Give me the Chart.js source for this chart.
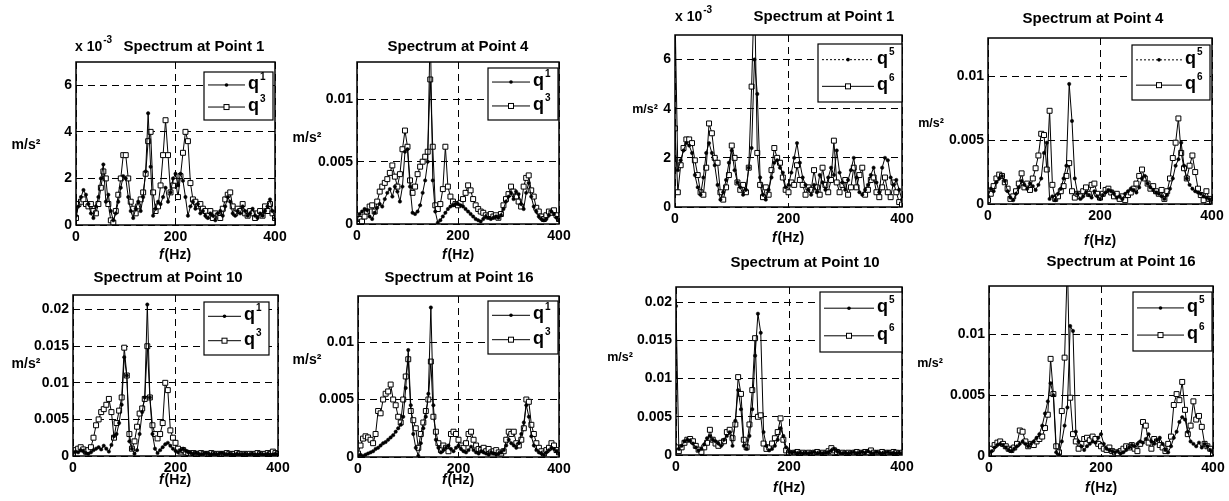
<!DOCTYPE html>
<html>
<head>
<meta charset="utf-8">
<script src="https://cdn.jsdelivr.net/npm/chart.js@4.4.0/dist/chart.umd.min.js"></script>
<style>
body { margin: 0; background: #fff; }
#wrap { position: relative; width: 1229px; height: 501px; background: #fff; }
#wrap canvas { position: absolute; left: 0; top: 0; }
</style>
</head>
<body>
<div id="wrap"></div>
<script>
// frequency axis (Hz)
const freq = [
  0,5,10,15,20,25,30,35,40,45,
  50,55,60,65,70,75,80,85,90,95,
  100,105,110,115,120,125,130,135,140,145,
  150,155,160,165,170,175,180,185,190,195,
  200,205,210,215,220,225,230,235,240,245,
  250,255,260,265,270,275,280,285,290,295,
  300,305,310,315,320,325,330,335,340,345,
  350,355,360,365,370,375,380,385,390,395,400];

// left group, q1 / q3   (Point 1 values in 1e-3 m/s2)
const a1_q1 = [
  0.4,0.8,1.2,1.5,1.3,0.9,0.5,0.3,0.8,1.2,
  2.0,2.6,1.0,1.3,0.6,0.2,0.5,1.0,1.6,2.1,
  2.0,1.2,0.6,0.3,0.7,1.0,0.6,1.2,2.3,4.8,
  2.5,0.4,0.7,1.0,0.9,1.2,1.6,1.0,1.4,2.0,
  2.2,1.7,2.2,1.9,1.2,0.4,0.8,1.0,0.7,0.9,
  0.5,0.6,0.4,0.3,0.5,0.4,0.2,0.5,0.6,0.4,
  0.8,1.2,1.0,0.5,0.4,0.6,0.5,0.8,0.6,0.4,
  0.5,0.7,0.4,0.3,0.5,0.4,0.6,0.8,1.1,0.6,0.3];
const a1_q3 = [
  0.3,0.9,1.0,1.1,0.9,0.8,0.9,0.6,0.5,0.9,
  1.6,2.3,2.0,0.9,0.2,0.1,0.6,1.3,2.0,3.0,
  3.0,2.0,1.0,0.7,0.5,0.8,1.1,1.4,2.2,3.6,
  4.0,1.4,0.6,0.8,1.7,3.0,4.5,3.0,1.4,1.7,
  1.9,1.2,2.1,3.1,4.0,3.6,1.8,1.1,1.0,0.8,
  0.9,0.7,0.6,0.4,0.6,0.3,0.5,0.4,0.3,0.7,
  1.1,1.3,1.4,0.8,0.5,0.7,0.6,0.9,0.5,0.4,
  0.6,0.5,0.3,0.5,0.6,0.4,0.8,0.6,0.9,0.5,0.3];

const a4_q1 = [
  .0003,.0008,.0010,.0012,.0011,.0006,.0004,.0009,.0013,.0016,
  .0014,.0020,.0025,.0028,.0022,.0030,.0026,.0018,.0030,.0058,
  .0060,.0030,.0009,.0008,.0010,.0015,.0025,.0035,.0050,.0160,
  .0035,.0010,.0001,.0003,.0006,.0009,.0012,.0014,.0015,.0016,
  .0016,.0015,.0014,.0012,.0010,.0008,.0006,.0004,.0003,.0002,
  .0004,.0006,.0005,.0004,.0005,.0006,.0005,.0007,.0012,.0018,
  .0022,.0025,.0020,.0026,.0024,.0016,.0012,.0025,.0033,.0022,
  .0014,.0010,.0006,.0004,.0003,.0004,.0007,.0010,.0008,.0005,.0003];
const a4_q3 = [
  .0002,.0004,.0002,.0006,.0010,.0014,.0015,.0010,.0018,.0026,
  .0030,.0033,.0036,.0041,.0047,.0038,.0030,.0040,.0060,.0075,
  .0062,.0035,.0025,.0030,.0040,.0046,.0050,.0054,.0058,.0116,
  .0062,.0015,.0012,.0016,.0028,.0062,.0030,.0022,.0018,.0016,
  .0015,.0017,.0020,.0025,.0031,.0027,.0020,.0015,.0012,.0010,
  .0009,.0007,.0006,.0008,.0006,.0007,.0005,.0008,.0015,.0020,
  .0024,.0030,.0026,.0022,.0018,.0014,.0030,.0037,.0039,.0027,
  .0022,.0013,.0010,.0006,.0004,.0007,.0010,.0009,.0011,.0007,.0004];

const a10_q1 = [
  .0004,.0006,.0005,.0008,.0007,.0004,.0003,.0005,.0008,.0010,
  .0012,.0009,.0014,.0010,.0006,.0015,.0027,.0030,.0045,.0070,
  .0135,.0110,.0020,.0010,.0003,.0008,.0030,.0060,.0080,.0207,
  .0080,.0030,.0010,.0004,.0008,.0012,.0016,.0018,.0014,.0010,
  .0007,.0005,.0008,.0010,.0007,.0005,.0004,.0003,.0004,.0003,
  .0002,.0003,.0004,.0003,.0002,.0003,.0002,.0003,.0004,.0003,
  .0002,.0003,.0002,.0002,.0003,.0002,.0002,.0003,.0002,.0002,
  .0003,.0002,.0002,.0003,.0002,.0002,.0003,.0002,.0002,.0003,.0002];
const a10_q3 = [
  .0003,.0008,.0010,.0012,.0009,.0006,.0008,.0012,.0025,.0042,
  .0050,.0060,.0064,.0070,.0078,.0060,.0025,.0045,.0062,.0080,
  .0148,.0110,.0030,.0010,.0020,.0040,.0058,.0065,.0078,.0150,
  .0080,.0042,.0030,.0024,.0030,.0045,.0100,.0090,.0035,.0025,
  .0018,.0010,.0006,.0008,.0005,.0004,.0003,.0004,.0003,.0003,
  .0004,.0003,.0002,.0003,.0004,.0003,.0002,.0003,.0002,.0003,
  .0004,.0003,.0002,.0003,.0004,.0003,.0002,.0003,.0002,.0003,
  .0002,.0003,.0004,.0003,.0002,.0003,.0004,.0003,.0006,.0004,.0003];

const a16_q1 = [
  .0001,.0002,.0001,.0002,.0003,.0004,.0005,.0007,.0008,.0010,
  .0012,.0013,.0015,.0017,.0019,.0022,.0025,.0028,.0035,.0060,
  .0093,.0045,.0020,.0008,.0001,.0012,.0025,.0035,.0055,.0130,
  .0045,.0015,.0008,.0004,.0006,.0008,.0010,.0007,.0005,.0008,
  .0010,.0007,.0005,.0004,.0006,.0009,.0006,.0004,.0003,.0005,
  .0004,.0003,.0002,.0004,.0003,.0002,.0003,.0004,.0006,.0010,
  .0015,.0012,.0010,.0008,.0012,.0020,.0030,.0045,.0035,.0018,
  .0010,.0006,.0004,.0003,.0002,.0004,.0006,.0008,.0007,.0005,.0003];
const a16_q3 = [
  .0003,.0010,.0016,.0018,.0017,.0015,.0012,.0020,.0040,.0038,
  .0050,.0055,.0057,.0063,.0050,.0045,.0035,.0030,.0050,.0070,
  .0085,.0040,.0032,.0025,.0008,.0020,.0030,.0040,.0050,.0083,
  .0035,.0022,.0012,.0006,.0010,.0008,.0005,.0020,.0022,.0020,
  .0015,.0010,.0008,.0012,.0020,.0022,.0015,.0010,.0007,.0006,
  .0008,.0005,.0007,.0004,.0005,.0006,.0004,.0003,.0005,.0015,
  .0022,.0020,.0022,.0012,.0010,.0015,.0025,.0050,.0048,.0028,
  .0020,.0012,.0008,.0005,.0003,.0006,.0008,.0012,.0010,.0006,.0004];

// right group, q5 / q6   (Point 1 values in 1e-3 m/s2)
const b1_q5 = [
  8.0,1.5,1.9,2.3,2.6,2.5,2.2,1.3,0.8,0.5,
  1.2,2.2,2.6,2.2,1.7,0.9,0.3,0.6,1.1,1.8,
  2.3,1.5,1.0,0.8,0.5,0.7,1.6,2.4,6.0,4.6,
  1.2,0.5,0.3,0.7,1.2,1.8,1.9,1.6,1.4,0.8,
  0.9,1.4,2.0,2.6,1.8,1.2,0.9,0.7,0.5,0.9,
  0.6,1.3,1.0,0.7,1.2,1.6,1.3,2.3,1.4,1.0,
  0.7,1.1,1.5,2.0,1.2,0.6,0.5,0.7,0.9,1.3,
  1.6,1.0,0.6,1.6,2.0,1.9,1.2,0.9,1.1,0.7,0.3];
const b1_q6 = [
  3.2,0.6,1.7,2.4,2.75,2.75,2.6,1.9,1.3,0.6,
  0.5,1.6,3.4,3.0,2.0,1.8,0.6,0.3,0.8,1.3,
  2.5,2.0,1.0,0.7,0.9,0.6,1.6,4.9,9.0,2.2,
  0.9,0.4,0.8,0.5,1.5,2.4,2.0,1.8,1.2,0.7,
  0.6,1.0,0.9,1.7,1.1,0.9,0.5,0.8,0.7,1.5,
  0.8,0.5,1.6,0.9,0.6,1.1,2.7,1.0,0.6,0.9,
  1.1,0.5,0.8,1.6,0.8,1.3,1.6,0.5,0.7,1.1,
  1.2,0.6,0.4,0.8,1.2,0.6,0.4,1.0,0.6,0.2,0.1];

const b4_q5 = [
  .0006,.0012,.0010,.0017,.0020,.0022,.0018,.0010,.0005,.0003,
  .0008,.0013,.0018,.0015,.0012,.0016,.0014,.0011,.0015,.0020,
  .0040,.0048,.0004,.0006,.0003,.0008,.0012,.0020,.0030,.0094,
  .0065,.0020,.0008,.0004,.0006,.0009,.0007,.0005,.0010,.0006,
  .0004,.0007,.0009,.0011,.0010,.0008,.0005,.0006,.0004,.0008,
  .0010,.0012,.0011,.0009,.0013,.0020,.0022,.0016,.0013,.0011,
  .0009,.0008,.0006,.0004,.0007,.0012,.0020,.0030,.0035,.0048,
  .0030,.0020,.0015,.0012,.0010,.0009,.0008,.0006,.0005,.0004,.0002];
const b4_q6 = [
  .0003,.0008,.0014,.0020,.0023,.0022,.0017,.0012,.0004,.0006,
  .0010,.0016,.0024,.0013,.0016,.0011,.0020,.0028,.0038,.0055,
  .0054,.0027,.0073,.0015,.0004,.0006,.0010,.0014,.0022,.0032,
  .0010,.0005,.0008,.0006,.0010,.0013,.0008,.0015,.0016,.0008,
  .0005,.0008,.0011,.0012,.0009,.0006,.0008,.0004,.0006,.0003,
  .0007,.0009,.0012,.0016,.0022,.0027,.0020,.0016,.0012,.0014,
  .0010,.0008,.0011,.0004,.0010,.0020,.0036,.0048,.0067,.0040,
  .0028,.0020,.0030,.0038,.0025,.0012,.0007,.0003,.0010,.0004,.0002];

const b10_q5 = [
  .0195,.0008,.0012,.0018,.0020,.0019,.0015,.0010,.0006,.0008,
  .0014,.0022,.0025,.0020,.0018,.0015,.0012,.0020,.0025,.0030,
  .0012,.0045,.0085,.0060,.0012,.0008,.0025,.0060,.0130,.0185,
  .0160,.0030,.0012,.0006,.0008,.0012,.0020,.0035,.0025,.0010,
  .0004,.0003,.0004,.0002,.0003,.0002,.0003,.0002,.0003,.0004,
  .0002,.0003,.0002,.0003,.0004,.0006,.0008,.0005,.0003,.0002,
  .0003,.0002,.0003,.0004,.0002,.0003,.0004,.0003,.0005,.0003,
  .0002,.0004,.0003,.0002,.0003,.0004,.0002,.0003,.0002,.0003,.0002];
const b10_q6 = [
  .0010,.0005,.0010,.0016,.0020,.0021,.0018,.0012,.0007,.0004,
  .0010,.0016,.0033,.0020,.0015,.0012,.0016,.0018,.0030,.0033,
  .0022,.0040,.0102,.0080,.0020,.0010,.0040,.0085,.0153,.0050,
  .0052,.0015,.0008,.0010,.0015,.0022,.0030,.0048,.0020,.0006,
  .0003,.0002,.0003,.0004,.0002,.0003,.0002,.0003,.0002,.0003,
  .0004,.0002,.0003,.0002,.0005,.0009,.0006,.0004,.0002,.0003,
  .0002,.0003,.0002,.0003,.0004,.0002,.0003,.0004,.0003,.0006,
  .0003,.0002,.0003,.0004,.0002,.0003,.0002,.0004,.0003,.0002,.0003];

const b16_q5 = [
  .0002,.0004,.0007,.0009,.0010,.0009,.0007,.0005,.0004,.0006,
  .0008,.0010,.0012,.0010,.0008,.0010,.0012,.0015,.0018,.0025,
  .0035,.0045,.0060,.0050,.0003,.0001,.0012,.0025,.0040,.0107,
  .0103,.0020,.0012,.0008,.0005,.0008,.0010,.0012,.0011,.0015,
  .0018,.0010,.0006,.0005,.0004,.0003,.0004,.0002,.0003,.0005,
  .0007,.0009,.0008,.0010,.0012,.0011,.0014,.0018,.0012,.0010,
  .0013,.0015,.0010,.0005,.0003,.0008,.0015,.0020,.0028,.0032,
  .0030,.0020,.0012,.0010,.0008,.0011,.0007,.0010,.0008,.0005,.0003];
const b16_q6 = [
  .0002,.0006,.0009,.0011,.0012,.0010,.0008,.0006,.0005,.0007,
  .0010,.0021,.0020,.0012,.0008,.0010,.0009,.0012,.0014,.0016,
  .0023,.0034,.0080,.0051,.0008,.0003,.0037,.0081,.0160,.0048,
  .0018,.0012,.0006,.0010,.0014,.0015,.0013,.0016,.0014,.0010,
  .0008,.0006,.0005,.0007,.0004,.0003,.0002,.0004,.0006,.0008,
  .0007,.0009,.0006,.0004,.0010,.0028,.0025,.0011,.0006,.0014,
  .0012,.0009,.0007,.0004,.0010,.0016,.0042,.0051,.0046,.0061,
  .0038,.0018,.0025,.0045,.0030,.0033,.0024,.0010,.0008,.0006,.0002];

const W = 1229, H = 501;
const YW = 44, XH = 20;
const FONT = '"Liberation Sans", Arial, sans-serif';

// layout of the 8 panels (plot box = left, top, right, bottom in px)
const panels = [
  { title: 'Spectrum at Point 1', sup: ['1','3'], data: [a1_q1, a1_q3], box: [76,62,275,225],
    ymax: 7, step: 2, exp: [75,47], titleAt: [194,47], ylab: [26,145], ylabSize: 14, xlab: [175,255], legend: [204,72,69,48] },
  { title: 'Spectrum at Point 4', sup: ['1','3'], data: [a4_q1, a4_q3], box: [357,62,559,224],
    ymax: 0.013, step: 0.005, titleAt: [458,47], ylab: [307,138], ylabSize: 14, xlab: [458,255], legend: [488,68,70,52] },
  { title: 'Spectrum at Point 10', sup: ['1','3'], data: [a10_q1, a10_q3], box: [73,295,278,456],
    ymax: 0.022, step: 0.005, titleAt: [168,278], ylab: [26,364], ylabSize: 14, xlab: [175,480], legend: [204,302,65,53] },
  { title: 'Spectrum at Point 16', sup: ['1','3'], data: [a16_q1, a16_q3], box: [358,296,559,457],
    ymax: 0.014, step: 0.005, titleAt: [459,278], ylab: [307,360], ylabSize: 14, xlab: [458,480], legend: [488,301,70,53] },
  { title: 'Spectrum at Point 1', sup: ['5','6'], data: [b1_q5, b1_q6], box: [675,35,902,207],
    ymax: 7, step: 2, exp: [675,17], titleAt: [824,17], ylab: [645,110], ylabSize: 12.5, xlab: [788,238], legend: [818,44,84,58], dotLegend: true },
  { title: 'Spectrum at Point 4', sup: ['5','6'], data: [b4_q5, b4_q6], box: [988,38,1212,204],
    ymax: 0.013, step: 0.005, titleAt: [1093,19], ylab: [931,124], ylabSize: 12.5, xlab: [1100,241], legend: [1132,45,78,55], dotLegend: true },
  { title: 'Spectrum at Point 10', sup: ['5','6'], data: [b10_q5, b10_q6], box: [676,287,902,455],
    ymax: 0.022, step: 0.005, titleAt: [805,263], ylab: [620,358], ylabSize: 12.5, xlab: [789,488], legend: [820,292,82,60] },
  { title: 'Spectrum at Point 16', sup: ['5','6'], data: [b16_q5, b16_q6], box: [989,286,1213,456],
    ymax: 0.014, step: 0.005, titleAt: [1121,262], ylab: [930,364], ylabSize: 12.5, xlab: [1101,488], legend: [1133,292,79,59] }
];

function drawMarker(ctx, k, x, y) {
    if (k == 0) {
        ctx.beginPath();
        ctx.arc(x, y, 1.8, 0, Math.PI * 2);
        ctx.fillStyle = '#000';
        ctx.fill();
    } else {
        ctx.fillStyle = '#fff';
        ctx.fillRect(x - 2.5, y - 2.5, 5, 5);
        ctx.strokeRect(x - 2.5, y - 2.5, 5, 5);
    }
}

// titles, labels, frame and legend box
function makeDecor(p) {
    return {
        id: 'decor',
        afterDraw(chart) {
            const ctx = chart.ctx, a = chart.chartArea;
            ctx.save();
            ctx.setLineDash([]);
            ctx.strokeStyle = '#000';
            ctx.lineWidth = 1.5;
            ctx.strokeRect(a.left, a.top, a.right - a.left, a.bottom - a.top);

            // legend
            const [lx, ly, lw, lh] = p.legend;
            ctx.fillStyle = '#fff';
            ctx.fillRect(lx, ly, lw, lh);
            ctx.lineWidth = 1.2;
            ctx.strokeRect(lx, ly, lw, lh);
            for (let k = 0; k < 2; k++) {
                const yy = ly + lh * (k ? 0.73 : 0.27);
                const x1 = lx + 4, x2 = lx + lw - 28;
                ctx.lineWidth = 1;
                ctx.setLineDash(k == 0 && p.dotLegend ? [2, 2] : []);
                ctx.beginPath();
                ctx.moveTo(x1, yy);
                ctx.lineTo(x2, yy);
                ctx.stroke();
                ctx.setLineDash([]);
                drawMarker(ctx, k, (x1 + x2) / 2, yy);
                ctx.fillStyle = '#000';
                ctx.textAlign = 'left';
                ctx.textBaseline = 'alphabetic';
                ctx.font = 'bold 18px ' + FONT;
                ctx.fillText('q', x2 + 3, yy + 4);
                const qw = ctx.measureText('q').width;
                ctx.font = 'bold 10px ' + FONT;
                ctx.fillText(p.sup[k], x2 + 4 + qw, yy - 5);
            }

            ctx.fillStyle = '#000';
            ctx.textBaseline = 'middle';
            ctx.textAlign = 'center';
            ctx.font = 'bold 15px ' + FONT;
            ctx.fillText(p.title, p.titleAt[0], p.titleAt[1]);

            ctx.font = 'bold ' + p.ylabSize + 'px ' + FONT;
            ctx.fillText('m/s\u00b2', p.ylab[0], p.ylab[1]);

            // f(Hz) with italic f
            ctx.textAlign = 'left';
            ctx.font = 'italic bold 14px ' + FONT;
            const fw = ctx.measureText('f').width;
            ctx.font = 'bold 14px ' + FONT;
            const hw = ctx.measureText('(Hz)').width;
            const x0 = p.xlab[0] - (fw + hw + 1) / 2;
            ctx.font = 'italic bold 14px ' + FONT;
            ctx.fillText('f', x0, p.xlab[1]);
            ctx.font = 'bold 14px ' + FONT;
            ctx.fillText('(Hz)', x0 + fw + 1, p.xlab[1]);

            if (p.exp) {
                ctx.font = 'bold 14px ' + FONT;
                ctx.fillText('x 10', p.exp[0], p.exp[1]);
                const ew = ctx.measureText('x 10').width;
                ctx.font = 'bold 10px ' + FONT;
                ctx.fillText('-3', p.exp[0] + ew + 1, p.exp[1] - 7);
            }
            ctx.restore();
        }
    };
}

const wrap = document.getElementById('wrap');
const tickFont = { family: FONT, size: 14, weight: 'bold' };

panels.forEach(p => {
    const cv = document.createElement('canvas');
    cv.width = W;
    cv.height = H;
    wrap.appendChild(cv);
    const [l, t, r, b] = p.box;
    new Chart(cv, {
        type: 'line',
        data: {
            datasets: p.data.map((vals, k) => ({
                data: freq.map((f, i) => ({ x: f, y: vals[i] })),
                borderColor: '#000',
                borderWidth: 1,
                tension: 0,
                pointStyle: k ? 'rect' : 'circle',
                pointRadius: k ? 3.5 : 1.7,
                pointBackgroundColor: k ? '#fff' : '#000',
                pointBorderColor: '#000',
                pointBorderWidth: k ? 1 : 0.5
            }))
        },
        options: {
            responsive: false,
            animation: false,
            devicePixelRatio: 1,
            events: [],
            layout: { padding: { left: l - YW, top: t, right: W - r, bottom: H - b - XH } },
            plugins: { legend: { display: false }, tooltip: { enabled: false } },
            scales: {
                x: {
                    type: 'linear', min: 0, max: 400,
                    afterFit: s => { s.height = XH; },
                    ticks: { stepSize: 200, padding: 4, color: '#000', font: tickFont, maxRotation: 0, autoSkip: false },
                    grid: { color: '#000', lineWidth: 1, drawTicks: false },
                    border: { display: false, dash: [7, 5] }
                },
                y: {
                    type: 'linear', min: 0, max: p.ymax,
                    afterFit: s => { s.width = YW; },
                    ticks: { stepSize: p.step, includeBounds: false, padding: 4, color: '#000', font: tickFont,
                             callback: v => String(+v.toFixed(3)) },
                    grid: { color: '#000', lineWidth: 1, drawTicks: false },
                    border: { display: false, dash: [7, 5] }
                }
            }
        },
        plugins: [makeDecor(p)]
    });
});
</script>
</body>
</html>
